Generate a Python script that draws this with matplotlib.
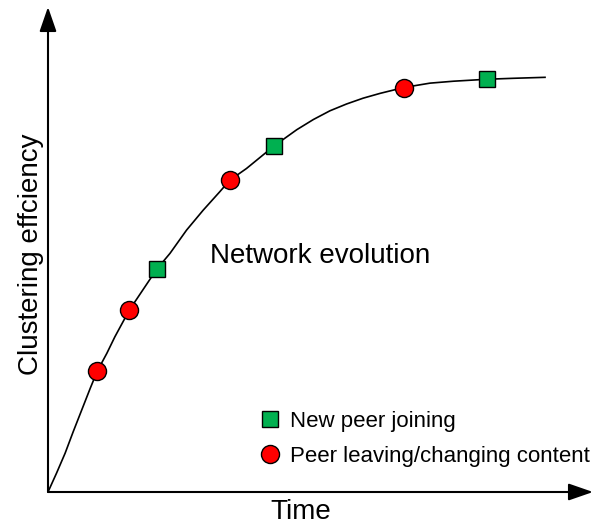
import matplotlib
matplotlib.use("Agg")
import matplotlib.pyplot as plt

plt.rcParams["font.family"] = ["Liberation Sans", "DejaVu Sans"]

# curve (time, clustering efficiency, arbitrary units)
curve_t = [0.0, 1.6, 3.2, 4.7, 6.3, 7.9, 9.2, 11.0, 12.5, 15.2, 20.3, 22.8,
           25.9, 29.0, 32.1, 34.0, 37.1, 42.2, 46.5, 49.6, 52.7, 55.8, 58.9,
           62.1, 66.5, 71.4, 75.8, 82.0, 87.0, 92.9]
curve_eff = [0.0, 3.9, 8.0, 12.4, 16.9, 21.4, 24.9, 28.6, 32.0, 37.5, 45.9, 49.2,
             54.0, 58.1, 61.9, 64.3, 66.7, 71.3, 74.7, 76.8, 78.6, 80.0, 81.2,
             82.2, 83.4, 84.3, 84.7, 85.1, 85.3, 85.5]

join_t = [20.3, 42.2, 82.0]
join_eff = [45.9, 71.3, 85.1]

leave_t = [9.2, 15.2, 34.0, 66.5]
leave_eff = [24.9, 37.5, 64.3, 83.4]

W, H = 596, 525
fig = plt.figure(figsize=(W / 100, H / 100), dpi=100)
ax = fig.add_axes([48 / W, (H - 492) / H, (593 - 48) / W, (492 - 7) / H])
ax.set_xlim(0, (593 - 48) / 5.35)
ax.set_ylim(0, 100)
for s in ax.spines.values():
    s.set_visible(False)
ax.set_xticks([])
ax.set_yticks([])
ax.patch.set_alpha(0)

arrow = dict(arrowstyle="-|>,head_length=1.5,head_width=0.52", mutation_scale=10,
             color="black", lw=1.5, shrinkA=0, shrinkB=0)
ax.annotate("", xy=(1, 0), xytext=(0, 0), xycoords="axes fraction", arrowprops=arrow)
ax.annotate("", xy=(0, 1), xytext=(0, 0), xycoords="axes fraction", arrowprops=arrow)

ax.plot(curve_t, curve_eff, color="black", lw=1.2, zorder=2,
        solid_joinstyle="round")
ax.plot(join_t, join_eff, "s", ms=11, mfc="#00B050", mec="black", mew=1,
        label="New peer joining", zorder=3)
ax.plot(leave_t, leave_eff, "o", ms=13, mfc="#FF0000", mec="black", mew=1,
        label="Peer leaving/changing content", zorder=3)

fig.text(320.5 / W, 1 - 263 / H, "Network evolution", fontsize=20,
         ha="center", va="baseline")
fig.text(300.5 / W, 1 - 519 / H, "Time", fontsize=20, ha="center", va="baseline")
fig.text(38 / W, 1 - 254 / H, "Clustering effciency", fontsize=20,
         ha="center", va="baseline", rotation=90, rotation_mode="anchor")

ax.legend(loc="upper left", bbox_to_anchor=(259 / W, 1 - 411 / H),
          bbox_transform=fig.transFigure, frameon=False, fontsize=16,
          handlelength=1.0, handletextpad=0.4, labelspacing=0.62,
          borderpad=0, borderaxespad=0)

fig.savefig("out.png", dpi=100)
